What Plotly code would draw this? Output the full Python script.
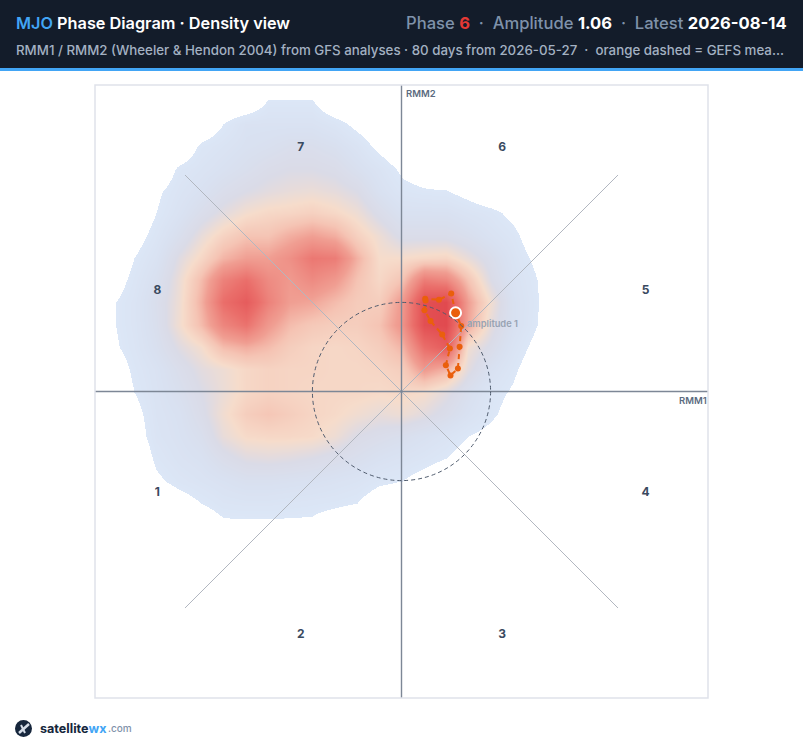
import plotly.graph_objects as go

# density grid (rows top to bottom, y descending)
grid_x = [-3.5, -3.25, -3.0, -2.75, -2.5, -2.25, -2.0, -1.75, -1.5, -1.25, -1.0, -0.75,
          -0.5, -0.25, 0.0, 0.25, 0.5, 0.75, 1.0, 1.25, 1.5, 1.75]
grid_y = [3.5, 3.25, 3.0, 2.75, 2.5, 2.25, 2.0, 1.75, 1.5, 1.25, 1.0, 0.75,
          0.5, 0.25, 0.0, -0.25, -0.5, -0.75, -1.0, -1.25, -1.5, -1.75]
density = [
    [0, 0, 0, 0, 0, 0, 0, 0, 0, 0, 0, 0, 0, 0, 0, 0, 0, 0, 0, 0, 0, 0],
    [0, 0, 0, 0, 0, 0, 0, 0, .11, .11, .11, 0, 0, 0, 0, 0, 0, 0, 0, 0, 0, 0],
    [0, 0, 0, 0, 0, 0, .1, .18, .18, .18, .18, .14, .07, 0, 0, 0, 0, 0, 0, 0, 0, 0],
    [0, 0, 0, 0, 0, .12, .16, .2, .22, .25, .25, .22, .16, .07, 0, 0, 0, 0, 0, 0, 0, 0],
    [0, 0, 0, 0, .12, .16, .2, .24, .28, .3, .3, .28, .22, .16, .08, .04, 0, 0, 0, 0, 0, 0],
    [0, 0, 0, .08, .15, .2, .26, .3, .33, .35, .36, .34, .3, .2, .13, .11, .105, .06, 0, 0, 0, 0],
    [0, 0, 0, .1, .18, .26, .33, .39, .42, .43, .45, .42, .37, .28, .2, .2, .2, .16, .13, .07, 0, 0],
    [0, 0, .05, .14, .24, .35, .44, .5, .5, .56, .6, .56, .45, .37, .28, .28, .28, .24, .18, .13, .03, 0],
    [0, 0, .1, .18, .32, .42, .54, .6, .6, .66, .76, .74, .55, .4, .4, .42, .43, .35, .26, .16, .08, 0],
    [0, .04, .13, .22, .36, .52, .72, .8, .68, .62, .68, .62, .5, .42, .5, .74, .7, .5, .3, .18, .11, 0],
    [0, .09, .15, .25, .37, .55, .8, .9, .72, .6, .58, .52, .47, .46, .62, .97, 1.0, .6, .38, .2, .12, 0],
    [0, .09, .15, .24, .38, .52, .7, .78, .62, .52, .48, .46, .46, .5, .64, .97, 1.0, .58, .34, .2, .11, 0],
    [0, .08, .14, .22, .32, .39, .52, .56, .52, .46, .43, .42, .43, .46, .54, .8, .9, .38, .28, .16, .07, 0],
    [0, .03, .12, .18, .26, .33, .37, .42, .44, .43, .43, .42, .42, .43, .46, .62, .55, .33, .2, .12, .03, 0],
    [0, 0, .1, .17, .23, .3, .36, .42, .44, .43, .42, .42, .42, .41, .42, .4, .33, .23, .14, .085, 0, 0],
    [0, 0, .06, .16, .2, .28, .38, .46, .49, .46, .43, .41, .38, .35, .37, .33, .27, .19, .12, .05, 0, 0],
    [0, 0, .04, .15, .19, .24, .35, .41, .42, .42, .41, .37, .3, .27, .24, .2, .16, .1, .06, 0, 0, 0],
    [0, 0, 0, .12, .17, .2, .27, .32, .33, .32, .3, .27, .24, .2, .17, .14, .1, .04, 0, 0, 0, 0],
    [0, 0, 0, .08, .13, .16, .19, .22, .22, .21, .2, .18, .16, .12, .1, .05, 0, 0, 0, 0, 0, 0],
    [0, 0, 0, 0, .05, .1, .14, .15, .15, .14, .13, .12, .1, .03, 0, 0, 0, 0, 0, 0, 0, 0],
    [0, 0, 0, 0, 0, .02, .08, .08, .08, .08, .08, .03, 0, 0, 0, 0, 0, 0, 0, 0, 0, 0],
    [0, 0, 0, 0, 0, 0, 0, 0, 0, 0, 0, 0, 0, 0, 0, 0, 0, 0, 0, 0, 0, 0],
]

# GEFS mean, starting at the latest analysis
rmm1 = [.607, .558, .42, .266, .27, .258, .326, .457, .543, .498, .55, .633, .652, .67, .607]
rmm2 = [.884, 1.10, 1.03, 1.04, 1.02, .913, .79, .64, .483, .296, .18, .258, .502, .734, .884]
latest_x = [.607]
latest_y = [.884]

phase_labels = ["1", "2", "3", "4", "5", "6", "7", "8"]
phase_x = [-2.74, -1.13, 1.13, 2.74, 2.74, 1.13, -1.13, -2.74]
phase_y = [-1.14, -2.73, -2.73, -1.14, 1.13, 2.73, 2.73, 1.13]

LIM = 3.44
DIAG = 2.43
W, H = 803, 750


def px(x):
    return x / W


def py(y):
    return 1 - y / H


colorscale = [
    [0, "rgba(255,255,255,0)"],
    [0.0999, "rgba(255,255,255,0)"],
    [0.1, "#dce7f7"],
    [0.2, "#d9e1f1"],
    [0.3, "#dadbe7"],
    [0.4, "#f6dccb"],
    [0.5, "#f5c4b4"],
    [0.6, "#f09e92"],
    [0.8, "#ea6e6a"],
    [1, "#e14a4f"],
]

fig = go.Figure()
fig.add_trace(go.Heatmap(x=grid_x, y=grid_y, z=density, zmin=0, zmax=1, zsmooth="best",
                         colorscale=colorscale, showscale=False, hoverinfo="skip"))

# sector lines
fig.add_trace(go.Scatter(x=[-DIAG, DIAG], y=[DIAG, -DIAG], mode="lines", line=dict(color="#b2b7c0", width=1), hoverinfo="skip"))
fig.add_trace(go.Scatter(x=[-DIAG, DIAG], y=[-DIAG, DIAG], mode="lines", line=dict(color="#b2b7c0", width=1), hoverinfo="skip"))
fig.add_trace(go.Scatter(x=[-LIM, LIM], y=[0, 0], mode="lines", line=dict(color="#7d8796", width=1.4), hoverinfo="skip"))
fig.add_trace(go.Scatter(x=[0, 0], y=[-LIM, LIM], mode="lines", line=dict(color="#7d8796", width=1.4), hoverinfo="skip"))

fig.add_trace(go.Scatter(x=rmm1, y=rmm2, mode="lines+markers",
                         line=dict(color="#ea5f0c", width=2, dash="5px,4px"),
                         marker=dict(color="#ea5f0c", size=6)))
fig.add_trace(go.Scatter(x=latest_x, y=latest_y, mode="markers",
                         marker=dict(color="#ea5f0c", size=11, line=dict(color="white", width=2))))
fig.add_trace(go.Scatter(x=phase_x, y=phase_y, text=phase_labels, mode="text",
                         textfont=dict(family="Inter", size=12, color="#3a4a60", weight=700)))

shapes = [
    dict(type="rect", xref="paper", yref="paper", x0=0, x1=1, y0=py(68), y1=1, fillcolor="#131c2a", line_width=0, layer="below"),
    dict(type="rect", xref="paper", yref="paper", x0=0, x1=1, y0=py(71), y1=py(68), fillcolor="#42a5f5", line_width=0, layer="below"),
    dict(type="rect", xref="paper", yref="paper", x0=px(95), x1=px(708), y0=py(698), y1=py(85),
         line=dict(color="#dfe2ea", width=1.5)),
    dict(type="circle", xref="x", yref="y", x0=-1, x1=1, y0=-1, y1=1, line=dict(color="#4f5b6d", width=1, dash="4px,3px")),
    # logo
    dict(type="circle", xref="paper", yref="paper", x0=px(15), x1=px(32), y0=py(737), y1=py(720), fillcolor="#16263c", line_width=0),
    dict(type="line", xref="paper", yref="paper", x0=px(19), x1=px(29), y0=py(733), y1=py(724), line=dict(color="#d5dde8", width=2.5)),
    dict(type="line", xref="paper", yref="paper", x0=px(21), x1=px(25), y0=py(725), y1=py(733), line=dict(color="#d5dde8", width=2)),
]


def note(x, y, text, size, color, anchor="left", weight=400):
    return dict(xref="paper", yref="paper", x=px(x), y=py(y), text=text, showarrow=False, xanchor=anchor, yanchor="middle",
                font=dict(family="Inter", size=size, color=color, weight=weight))


annotations = [
    note(14, 23, '<span style="color:#42a5f5">MJO</span> Phase Diagram · Density view', 16.3, "#ffffff", weight=600),
    note(789, 23, 'Phase <span style="color:#e53935"><b>6</b></span>  ·  Amplitude <span style="color:#ffffff"><b>1.06</b></span>  ·  Latest <span style="color:#ffffff"><b>2026-08-14</b></span>',
         16.6, "#7f92aa", anchor="right", weight=500),
    note(14, 50, "RMM1 / RMM2 (Wheeler &amp; Hendon 2004) from GFS analyses · 80 days from 2026-05-27  ·  orange dashed = GEFS mea...",
         13.3, "#a3b1c2", weight=500),
    note(404, 93, "RMM2", 9.5, "#5b6b80", weight=600),
    note(709, 401, "RMM1", 9.5, "#5b6b80", anchor="right", weight=600),
    note(465, 323, "amplitude 1", 9.3, "#98a3b3", weight=600),
    note(38, 728, '<span style="color:#16263c">satellite</span><span style="color:#42a5f5">wx</span>', 12.6, "#16263c", weight=700),
    note(106, 728, ".com", 10, "#7f92aa", weight=500),
]

fig.update_layout(
    width=W, height=H, margin=dict(l=0, r=0, t=0, b=0), showlegend=False,
    paper_bgcolor="white", plot_bgcolor="white",
    xaxis=dict(domain=[px(95), px(708)], range=[-LIM, LIM], visible=False),
    yaxis=dict(domain=[py(698), py(85)], range=[-LIM, LIM], visible=False),
    shapes=shapes, annotations=annotations,
)

fig.write_html("out.html", config={"displayModeBar": False}, post_script="document.body.style.margin='0';")
